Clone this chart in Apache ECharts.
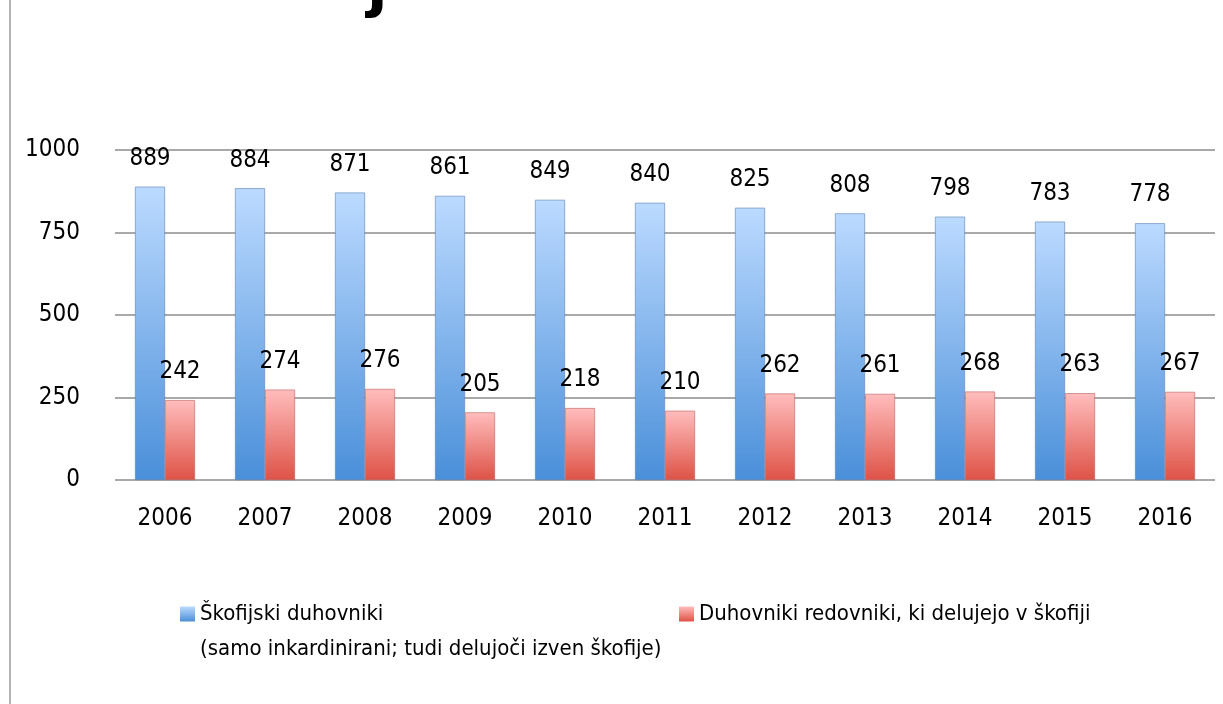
<!DOCTYPE html>
<html>
<head>
<meta charset="utf-8">
<script src="https://cdn.jsdelivr.net/npm/echarts@6/dist/echarts.min.js"></script>
<style>
  html, body { margin: 0; padding: 0; background: #fff; }
  #chart { width: 1223px; height: 704px; }
</style>
</head>
<body>
<div id="chart"></div>
<script>
var years = ['2006', '2007', '2008', '2009', '2010', '2011', '2012', '2013', '2014', '2015', '2016']
var skofijski = [889, 884, 871, 861, 849, 840, 825, 808, 798, 783, 778]
var redovniki = [242, 274, 276, 205, 218, 210, 262, 261, 268, 263, 267]
var nameSkof = 'Škofijski duhovniki'
var nameSkofNote = '(samo inkardinirani; tudi delujoči izven škofije)'
var nameRed = 'Duhovniki redovniki, ki delujejo v škofiji'

var font = '"Liberation Sans Narrow", "DejaVu Sans Condensed"'

var chart = echarts.init(document.getElementById('chart'))

function grad (top, bottom) {
  return new echarts.graphic.LinearGradient(0, 0, 0, 1, [
    { offset: 0, color: top },
    { offset: 1, color: bottom }
  ])
}

var labelStyle = {
  show: true,
  position: 'top',
  distance: 16,
  color: '#000',
  fontFamily: font,
  fontSize: 24
}
var legendText = { fontFamily: font, fontSize: 22, color: '#000' }

chart.setOption({
  animation: false,
  textStyle: { fontFamily: font },
  grid: { left: 115, right: 8, top: 150, bottom: 224 },
  legend: [{
    left: 175,
    top: 598,
    icon: 'rect',
    itemWidth: 15,
    itemHeight: 15,
    itemStyle: { borderWidth: 0 },
    data: [nameSkof],
    textStyle: legendText
  }, {
    left: 674,
    top: 598,
    icon: 'rect',
    itemWidth: 15,
    itemHeight: 15,
    itemStyle: { borderWidth: 0 },
    data: [nameRed],
    textStyle: legendText
  }],
  graphic: [{
    type: 'line',
    shape: { x1: 10, y1: 0, x2: 10, y2: 704 },
    style: { stroke: '#b4b4b4', lineWidth: 2 }
  }, {
    type: 'text',
    left: 200,
    top: 638,
    style: { text: nameSkofNote, fontFamily: font, fontSize: 22, fill: '#000' }
  }, {
    type: 'text',
    x: 367,
    y: -41,
    style: { text: 'j', fontFamily: 'DejaVu Sans', fontWeight: 'bold', fontSize: 60, fill: '#000' }
  }],
  xAxis: {
    type: 'category',
    data: years,
    axisLine: { show: false },
    axisTick: { show: false },
    axisLabel: { color: '#000', fontFamily: font, fontSize: 24, margin: 27 }
  },
  yAxis: {
    type: 'value',
    min: 0,
    max: 1000,
    interval: 250,
    axisLine: { show: false },
    axisTick: { show: false },
    axisLabel: {
      color: '#000',
      fontFamily: font,
      fontSize: 24,
      margin: 35,
      formatter: function (v) { return String(v) }
    },
    splitLine: { lineStyle: { color: '#a9a9a9', width: 2 } }
  },
  series: [{
    name: nameSkof,
    type: 'bar',
    data: skofijski,
    barWidth: 30,
    barGap: '0%',
    itemStyle: { color: grad('#bcdaff', '#4a8fd9'), borderColor: '#5a82b4', borderWidth: 0.6 },
    label: labelStyle
  }, {
    name: nameRed,
    type: 'bar',
    data: redovniki,
    barWidth: 30,
    itemStyle: { color: grad('#ffbdbd', '#de5246'), borderColor: '#c06060', borderWidth: 0.6 },
    label: labelStyle
  }]
})
</script>
</body>
</html>
